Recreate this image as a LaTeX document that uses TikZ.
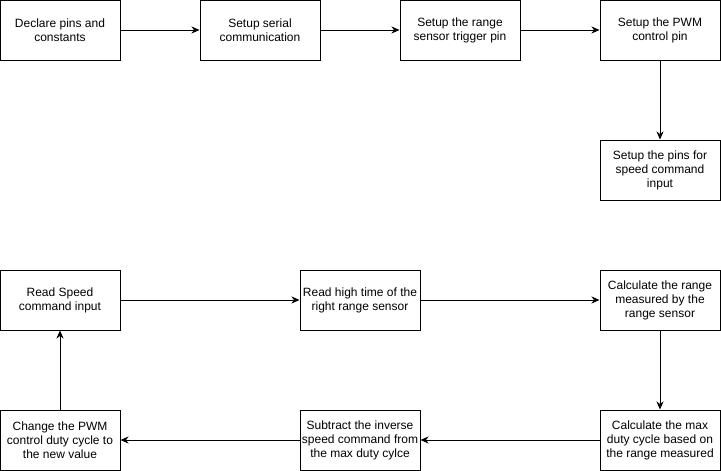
\documentclass[tikz,border=0pt]{standalone}
\usepackage{fontspec}
\setmainfont{Liberation Sans}
\usetikzlibrary{arrows.meta}

\begin{document}
\begin{tikzpicture}
                                [
                                    x=1pt, y=-1pt,
                                    block/.style = {draw, shape=rectangle, minimum height=60pt, minimum width=120pt, align=center, inner sep=1pt, line width=1pt, font=\fontsize{12}{14}\selectfont},
                                    flow/.style = {line width=1pt, -{Stealth[length=8pt,width=7pt,inset=2.5pt]}},
                                ]
                                \useasboundingbox (0,0) rectangle (721,471);

                                \node[block] (declare) at (60,30)    {Declare pins and\\constants};
                                \node[block] (serial) at (260,30)    {Setup serial\\communication};
                                \node[block] (trigger) at (460,30)   {Setup the range\\sensor trigger pin};
                                \node[block] (pwm) at (660,30)       {Setup the PWM\\control pin};
                                \node[block] (speedpins) at (660,170) {Setup the pins for\\speed command\\input};

                                \node[block] (readspeed) at (60,300) {Read Speed\\command input};
                                \node[block] (hightime) at (360,300) {Read high time of the\\right range sensor};
                                \node[block] (range) at (660,300)    {Calculate the range\\measured by the\\range sensor};

                                \node[block] (change) at (60,440)    {Change the PWM\\control duty cycle to\\the new value};
                                \node[block] (subtract) at (360,440) {Subtract the inverse\\speed command from\\the max duty cylce};
                                \node[block] (maxduty) at (660,440)  {Calculate the max\\duty cycle based on\\the range measured};

                                \draw [flow] (declare.east) -- (serial.west);
                                \draw [flow] (serial.east) -- (trigger.west);
                                \draw [flow] (trigger.east) -- (pwm.west);
                                \draw [flow] (pwm.south) -- (speedpins.north);

                                \draw [flow] (readspeed.east) -- (hightime.west);
                                \draw [flow] (hightime.east) -- (range.west);
                                \draw [flow] (range.south) -- (maxduty.north);
                                \draw [flow] (maxduty.west) -- (subtract.east);
                                \draw [flow] (subtract.west) -- (change.east);
                                \draw [flow] (change.north) -- (readspeed.south);
                            \end{tikzpicture}
\end{document}
